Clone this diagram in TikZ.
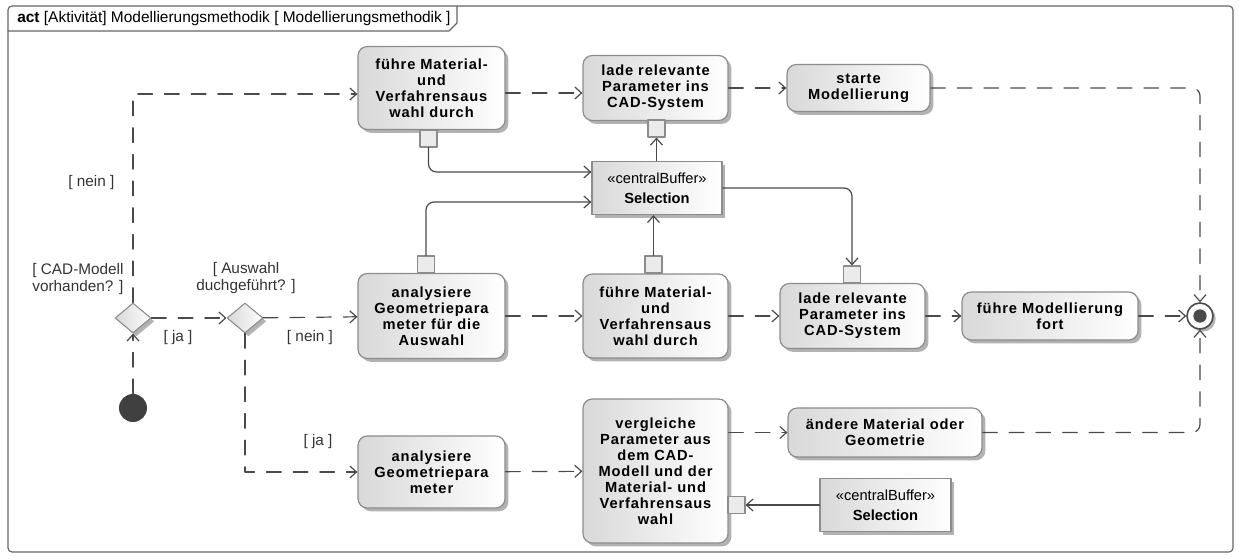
\documentclass[tikz,border=0pt]{standalone}
\usepackage{fontspec}
\setmainfont{Liberation Sans}
\newfontfamily\actfont[LetterSpace=6]{Liberation Sans}
\usetikzlibrary{arrows.meta,shapes.geometric,shadows,calc}
\definecolor{ink}{HTML}{4A4A4A}
\definecolor{rim}{HTML}{8C8C8C}

\begin{document}
\begin{tikzpicture}[x=0.75pt, y=-0.75pt, line join=round, line cap=round, >={Straight Barb[length=5pt,width=9pt]},
  shade/.style={left color=black!15, right color=white, general shadow={shadow xshift=2.5pt, shadow yshift=-2.5pt, fill=black!30}},
  act/.style={shade, rounded corners=7pt, draw=rim, line width=0.9pt, align=center, inner sep=2pt, font=\actfont\bfseries\fontsize{11}{12}\selectfont},
  buffer/.style={shade, draw=rim, line width=0.9pt, align=center, inner sep=2pt, font=\fontsize{11}{12}\selectfont},
  pin/.style={draw=rim, line width=0.8pt, fill=black!8, minimum size=12.75pt, inner sep=0},
  decision/.style={shade, diamond, draw=rim, line width=0.8pt, minimum width=27pt, minimum height=22.5pt, inner sep=0},
  flow/.style={draw=ink, line width=0.9pt, dash pattern=on 11pt off 9pt, ->},
  objflow/.style={draw=ink, line width=0.9pt, ->},
  guard/.style={text=black!80, inner sep=1pt, font=\fontsize{11.5}{12.5}\selectfont},
  frame/.style={draw=black!60, line width=0.9pt}]
\useasboundingbox (0,0) rectangle (1239,559);

\draw[frame, rounded corners=3pt] (8,6) rectangle (1233,552);
\draw[frame] (8,31) -- (449,31) -- (457,23) -- (457,6);
\node (title) [anchor=west, inner sep=0, font=\fontsize{11.6}{12}\selectfont] at (17,19) {\textbf{act} [Aktivität] Modellierungsmethodik [ Modellierungsmethodik ]};

\node (fuehreA) [act, minimum width=110.25pt, minimum height=62.25pt] at (431.5,88) {führe Material-\\und\\Verfahrensaus\\wahl durch};
\node (ladeA) [act, minimum width=108.75pt, minimum height=48.75pt] at (655.5,88) {lade relevante\\Parameter ins\\CAD-System};
\node (starte) [act, minimum width=107.25pt, minimum height=35.25pt] at (858.5,88) {starte\\Modellierung};
\node (bufA) [buffer, minimum width=97.5pt, minimum height=39.75pt] at (657,188) {«centralBuffer»\\[3pt]\textbf{Selection}};

\node (analyseA) [act, minimum width=110.25pt, minimum height=63.75pt] at (431.5,316) {analysiere\\Geometriepara\\meter für die\\Auswahl};
\node (fuehreB) [act, minimum width=108.75pt, minimum height=63pt] at (655.5,316) {führe Material-\\und\\Verfahrensaus\\wahl durch};
\node (ladeB) [act, minimum width=108.75pt, minimum height=48.75pt] at (852.5,316) {lade relevante\\Parameter ins\\CAD-System};
\node (fort) [act, minimum width=132pt, minimum height=36pt] at (1050,316) {führe Modellierung\\fort};

\node (analyseB) [act, minimum width=110.25pt, minimum height=54pt] at (431.5,472) {analysiere\\Geometriepara\\meter};
\node (vergleich) [act, minimum width=108.75pt, minimum height=108pt] at (655.5,471) {vergleiche\\Parameter aus\\dem CAD-\\Modell und der\\Material- und\\Verfahrensaus\\wahl};
\node (aendere) [act, minimum width=145.5pt, minimum height=36.75pt] at (885,432.5) {ändere Material oder\\Geometrie};
\node (bufB) [buffer, minimum width=98.25pt, minimum height=39.75pt] at (885.5,505) {«centralBuffer»\\[3pt]\textbf{Selection}};

\node (pinFA) [pin] at (428.5,138.5) {};
\node (pinLA) [pin] at (656.5,128.5) {};
\node (pinAA) [pin] at (426,264.5) {};
\node (pinFB) [pin] at (653.5,264.5) {};
\node (pinLB) [pin] at (852,274.5) {};
\node (pinV) [pin] at (736.5,505) {};

\node (init) [circle, fill=black!75, minimum size=21pt, inner sep=0] at (133,408) {};
\node (dA) [decision] at (133,318) {};
\node (dB) [decision] at (245,318) {};
\node (final) [circle, draw=ink, line width=1.2pt, fill=white, minimum size=19.5pt, inner sep=0, general shadow={shadow xshift=2pt, shadow yshift=-2pt, fill=black!30}] at (1200,316) {};
\node (finalDot) [circle, fill=ink, minimum size=10pt, inner sep=0] at (final) {};

\node (gNeinA) [guard, anchor=east] at (116,183) {[ nein ]};
\node (gCad) [guard, align=left] at (78,279) {[ CAD-Modell\\vorhanden? ]};
\node (gJaA) [guard] at (178,338) {[ ja ]};
\node (gAusw) [guard, align=center] at (246,278) {[ Auswahl\\duchgeführt? ]};
\node (gNeinB) [guard] at (310,338) {[ nein ]};
\node (gJaB) [guard] at (318,442) {[ ja ]};

\draw[flow] (init) -- (dA);
\draw[flow] (dA.north) |- ($(fuehreA.west)+(0,6)$);
\draw[flow] (dA) -- (dB);
\draw[flow] (dB) -- (analyseA);
\draw[flow] (dB.south) |- (analyseB.west);
\draw[flow] ($(fuehreA.east)+(0,5)$) -- ($(ladeA.west)+(0,5)$);
\draw[flow] (ladeA) -- (starte);
\draw[flow, rounded corners=6pt] (starte.east) -| (final.north);
\draw[flow] (analyseA) -- (fuehreB);
\draw[flow] (fuehreB) -- (ladeB);
\draw[flow] (ladeB) -- (fort);
\draw[flow] (fort) -- (final);
\draw[flow] (analyseB) -- (vergleich);
\draw[flow] (vergleich.east |- aendere.west) -- (aendere.west);
\draw[flow, rounded corners=6pt] (aendere.east) -| (final.south);

\draw[objflow, rounded corners=6pt] (pinFA.south) |- ($(bufA.west)+(0,-16)$);
\draw[objflow, rounded corners=6pt] (pinAA.north) |- ($(bufA.west)+(0,14)$);
\draw[objflow] (pinFB.north) -- (pinFB.north |- bufA.south);
\draw[objflow] (pinLA.south |- bufA.north) -- (pinLA.south);
\draw[objflow, rounded corners=6pt] (bufA.east) -| (pinLB.north);
\draw[objflow] (bufB.west) -- (pinV.east);
\end{tikzpicture}
\end{document}
